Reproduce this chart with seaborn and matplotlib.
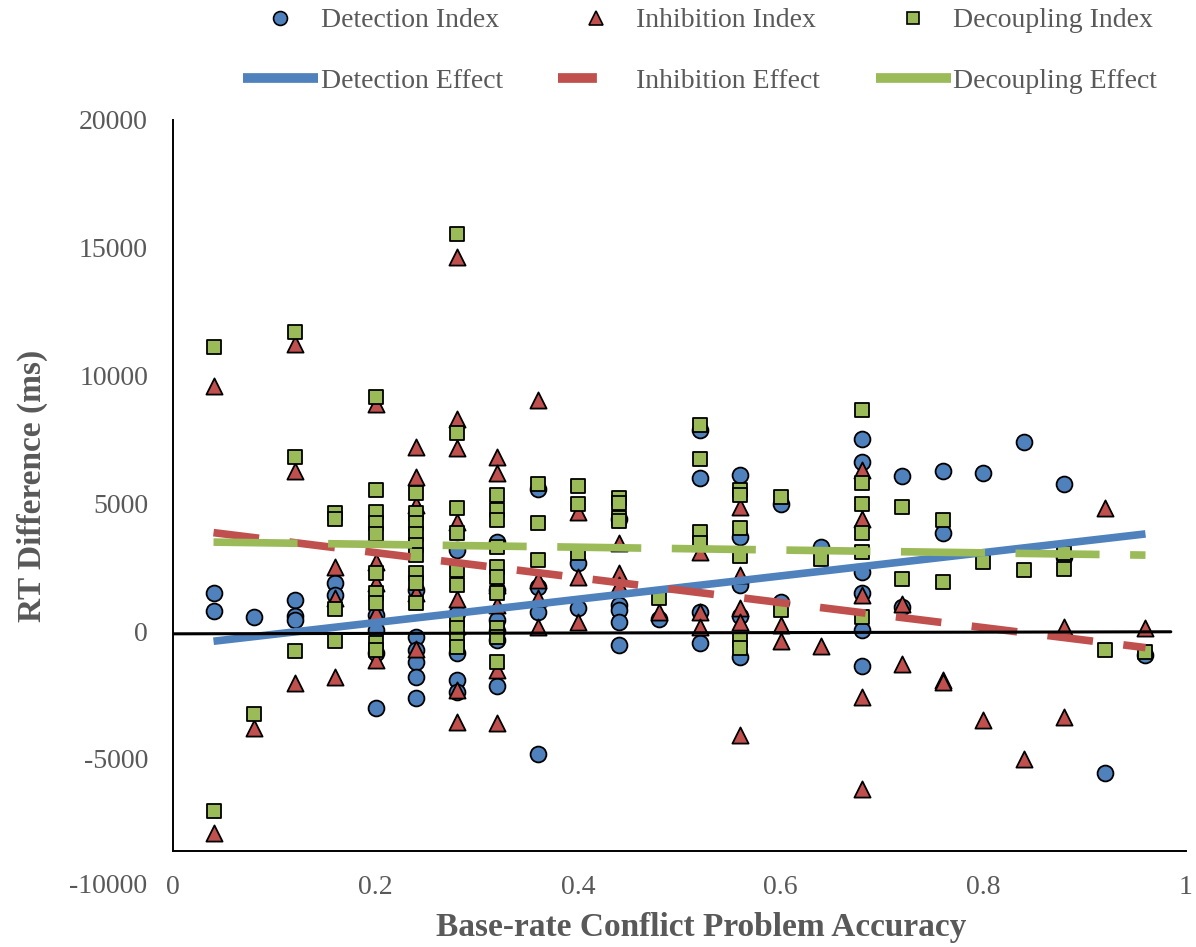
import matplotlib
matplotlib.use("Agg")
import matplotlib.pyplot as plt
from matplotlib.lines import Line2D
import seaborn as sns
import pandas as pd

# accuracy levels (x) and the RT differences read at each level
accuracy = [0.04, 0.08, 0.12, 0.16, 0.20, 0.24, 0.28, 0.32, 0.36, 0.40, 0.44, 0.48,
            0.52, 0.56, 0.60, 0.64, 0.68, 0.72, 0.76, 0.80, 0.84, 0.88, 0.92, 0.96]

detection = [[1500, 800], [550], [1210, 590, 430], [1880, 1410],
             [630, 40, -850, -3020], [1600, -230, -750, -1210, -1800, -2620],
             [3170, 700, -860, -1920, -2390], [3480, 1600, 430, 0, -350, -2150],
             [5560, 1720, 740, -4820], [2660, 900], [4400, 1020, 820, 350, -550],
             [470], [7870, 5990, 740, -470], [6110, 3680, 1800, 590, -1020],
             [4970, 1140], [3290], [7520, 6620, 2310, 1490, 40, -1370],
             [6070, 940], [6260, 3840], [6190], [7400], [5750, 2900], [-5560], [-940]]

inhibition = [[9600, -7900], [-3800], [11250, 6250, -2050], [2500, 1300, -1800],
              [8890, 2710, 1880, 700, -1140], [7220, 6040, 4930, 1490, -700],
              [14640, 8300, 7160, 4270, 1250, 200, -2300, -3560],
              [6810, 6190, 1800, 1000, -1530, -3600], [9040, 2000, 1290, 160],
              [4660, 2110, 350], [3440, 2270, 1800], [740], [3090, 740, 160],
              [4850, 2190, 900, 350, -4070], [240, -390], [-590],
              [6300, 4380, 1410, -2580, -6190], [1060, -1290], [-1920, -2000],
              [-3480], [-5010], [160, -3370], [4820], [120]]

decoupling = [[11100, -7050], [-3250], [11700, 6800, -790], [4620, 4400, 860, -390],
              [9160, 5520, 4670, 4220, 3800, 2270, 1490, 1100, -470, -750],
              [5400, 4620, 4230, 3800, 3370, 2980, 2270, 1880, 1100],
              [15540, 7750, 4820, 3830, 2390, 1800, 430, 120, -350, -620],
              [5320, 4740, 4350, 3300, 2510, 2100, 1490, 120, -230, -1210],
              [5750, 4230, 2780], [5680, 4970, 3050], [5200, 5000, 4420, 4320],
              [1290], [8070, 6730, 3880, 3440], [5520, 5320, 4030, 2940, -350, -670],
              [5250, 820], [2820], [8650, 5800, 4970, 3840, 3090, 550],
              [4850, 2040], [4350, 1920], [2700], [2390], [3050, 2430], [-750], [-820]]

# linear trend end points
fit_x = [0.04, 0.96]
detection_fit = [-400, 3800]
inhibition_fit = [3850, -650]
decoupling_fit = [3480, 2970]

# reference line near zero
zero_x = [0.0, 0.985]
zero_y = [-110, -30]

y_ticks = [-5000, 0, 5000, 10000, 15000, 20000]
x_ticks = [0, 0.2, 0.4, 0.6, 0.8, 1]
x_tick_labels = ["0", "0.2", "0.4", "0.6", "0.8", "1"]

BLUE = "#4F81BD"
RED = "#C0504D"
GREEN = "#9BBB59"
GREY = "#595959"


def to_long(values):
    rows = []
    for acc, vals in zip(accuracy, values):
        for v in vals:
            rows.append({"accuracy": acc, "rt": v})
    return pd.DataFrame(rows)


sns.set_style("white")
plt.rcParams["font.family"] = ["Liberation Serif", "DejaVu Serif"]
plt.rcParams["axes.unicode_minus"] = False

fig = plt.figure(figsize=(11.96, 9.47), dpi=100)
ax = fig.add_axes([173 / 1196, 1 - 851 / 947, 1013 / 1196, 731 / 947])

sns.scatterplot(data=to_long(detection), x="accuracy", y="rt", marker="o", s=130,
                color=BLUE, edgecolor="black", linewidth=1.3, ax=ax, zorder=3)
sns.scatterplot(data=to_long(inhibition), x="accuracy", y="rt", marker="^", s=135,
                color=RED, edgecolor="black", linewidth=1.3, ax=ax, zorder=4)
sns.scatterplot(data=to_long(decoupling), x="accuracy", y="rt", marker="s", s=110,
                color=GREEN, edgecolor="black", linewidth=1.3, ax=ax, zorder=5)

ax.plot(fit_x, detection_fit, color=BLUE, lw=5.5, solid_capstyle="butt", zorder=6)
ax.plot(fit_x, inhibition_fit, color=RED, lw=5.5, ls=(0, (6, 4)),
        dash_capstyle="butt", zorder=6)
ax.plot(fit_x, decoupling_fit, color=GREEN, lw=5.5, ls=(0, (11, 4)),
        dash_capstyle="butt", zorder=6)
ax.plot(zero_x, zero_y, color="black", lw=2.2, zorder=7)

ax.set_xlim(0, 1)
ax.set_ylim(-8610, 20000)
ax.set_xticks(x_ticks)
ax.set_xticklabels(x_tick_labels)
ax.set_yticks(y_ticks)
ax.tick_params(axis="both", labelsize=20, labelcolor=GREY, color="black",
               direction="out")
ax.tick_params(axis="x", length=5, width=1.2, pad=12)
ax.tick_params(axis="y", length=4, width=1.2, pad=14)
ax.text(-0.0257, -10000, "-10000", transform=ax.get_yaxis_transform(),
        ha="right", va="center", fontsize=20, color=GREY, clip_on=False)

for side in ["top", "right"]:
    ax.spines[side].set_visible(False)
for side in ["left", "bottom"]:
    ax.spines[side].set_color("black")
    ax.spines[side].set_linewidth(1.4)

ax.set_xlabel("Base-rate Conflict Problem Accuracy", fontsize=24,
              fontweight="bold", color=GREY)
ax.set_ylabel("RT Difference (ms)", fontsize=24, fontweight="bold", color=GREY)
ax.xaxis.set_label_coords(0.521, -0.083)
ax.yaxis.set_label_coords(-0.123, 0.5)

handles = [
    Line2D([], [], ls="", marker="o", ms=10, mfc=BLUE, mec="black", mew=1.2),
    Line2D([], [], color=BLUE, lw=7, solid_capstyle="butt"),
    Line2D([], [], ls="", marker="^", ms=10, mfc=RED, mec="black", mew=1.2),
    Line2D([], [], color=RED, lw=7, ls=(0, (4, 8)), dash_capstyle="butt"),
    Line2D([], [], ls="", marker="s", ms=9, mfc=GREEN, mec="black", mew=1.2),
    Line2D([], [], color=GREEN, lw=7, solid_capstyle="butt"),
]
labels = ["Detection Index", "Detection Effect", "Inhibition Index",
          "Inhibition Effect", "Decoupling Index", "Decoupling Effect"]
fig.legend(handles, labels, ncol=3, loc="upper center",
           bbox_to_anchor=(700 / 1196, 1.018), frameon=False, fontsize=20,
           labelcolor=GREY, handlelength=2.7, handletextpad=0.1,
           columnspacing=2.0, labelspacing=1.25)

fig.savefig("out.png", dpi=100)
